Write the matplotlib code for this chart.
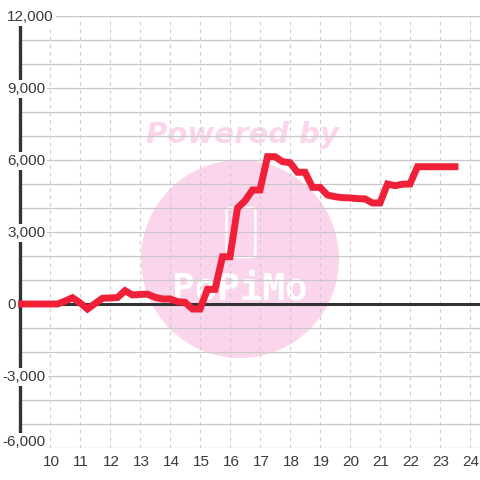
import matplotlib
matplotlib.use('Agg')
import matplotlib.pyplot as plt
from matplotlib.patches import Circle, FancyBboxPatch

hours = [9 + 0.25 * i for i in range(59)]
values = [0, 0, 0, 0, 0, 0, 120, 260, 50, -210, 20, 240, 250, 270, 555, 375,
          400, 410, 280, 210, 210, 100, 70, -210, -210, 610, 610, 1970, 1970,
          4000, 4300, 4750, 4750, 6140, 6140, 5930, 5890, 5490, 5490, 4860,
          4860, 4540, 4470, 4430, 4420, 4390, 4380, 4210, 4210, 5000, 4930,
          4990, 5000, 5720, 5720, 5720, 5720, 5720, 5720]
x_ticks = list(range(10, 25))
y_labeled = [12000, 9000, 6000, 3000, 0, -3000, -6000]
y_grid = list(range(-6000, 13000, 1000))

plt.rcParams['font.family'] = ['Liberation Sans', 'DejaVu Sans']

fig = plt.figure(figsize=(4.8, 4.8), dpi=100)
# пиксели: x=20..480, y=16..448
ax = fig.add_axes([20 / 480, 1 - 448 / 480, 460 / 480, 432 / 480])
ax.set_xlim(9, 9 + 460 / 30)
ax.set_ylim(-6000, 12000)
ax.patch.set_visible(False)

# водяной знак
bg = fig.add_axes([0, 0, 1, 1], zorder=-1)
bg.set_xlim(0, 480)
bg.set_ylim(480, 0)
bg.axis('off')
bg.add_patch(Circle((240, 259), 99, color='#fbd5ec', lw=0))
bg.add_patch(FancyBboxPatch((226.5, 208), 29, 49, boxstyle='round,pad=0,rounding_size=3',
                            fc='none', ec='white', lw=1.6))
bg.text(242, 135, 'Powered by', color='#fbd5ec', fontsize=21, fontweight='bold',
        style='italic', ha='center', va='center', family='DejaVu Sans')
bg.text(240, 290, 'PoPiMo', color='white', fontsize=27, fontweight='bold',
        ha='center', va='center', family='DejaVu Sans Mono')

for y in y_grid:
    ax.axhline(y, color='#c8c8c8', lw=0.9, zorder=1)
for x in x_ticks:
    ax.axvline(x, color='#cccccc', lw=0.8, ls=(0, (3.2, 3.6)), zorder=1)

ax.axhline(0, color='#333333', lw=2.2, zorder=2)
ax.plot([9, 9], [-5500, 11650], color='#333333', lw=2.4, zorder=2,
        solid_capstyle='butt', clip_on=False)
ax.plot(hours, values, color='#f02038', lw=5, zorder=3, solid_joinstyle='miter',
        solid_capstyle='projecting', clip_on=False)

for s in ax.spines.values():
    s.set_visible(False)
ax.set_xticks([])
ax.set_yticks([])

for x in x_ticks:
    ax.annotate(str(x), (x, -6000), xytext=(1, -14), textcoords='offset pixels',
                ha='center', va='center', color='#3a3a3a', fontsize=11)
for y in y_labeled:
    dx = -17.5 if y < 0 else -13
    dy = 6 if y == -6000 else -1
    ax.annotate(f'{y:,}', (9, y), xytext=(dx, dy), textcoords='offset pixels',
                ha='left', va='center', color='#3a3a3a', fontsize=11, zorder=5,
                annotation_clip=False, bbox=dict(fc='white', ec='none', pad=1.5))

fig.savefig('out.png', dpi=100)
